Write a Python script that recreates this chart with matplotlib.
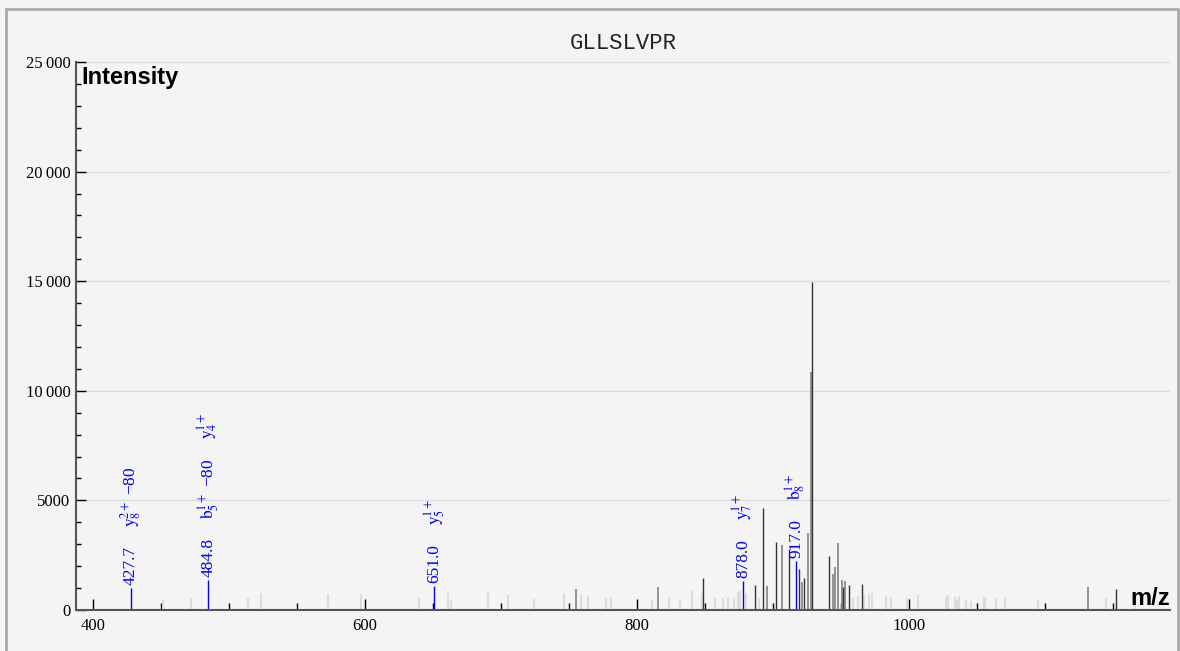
import matplotlib
matplotlib.use("Agg")
import matplotlib.pyplot as plt
from matplotlib.ticker import MultipleLocator, FuncFormatter
from matplotlib.patches import Rectangle

# peptide shown in the header
title = "GLLSLVPR"

# strong unmatched peaks (dark lines)
dark_mz = [848.8, 887.1, 892.9, 902.4, 912.0, 919.3, 923.0, 928.5, 941.4, 951.3,
           956.1, 965.6, 1152.0]
dark_int = [1474, 1140, 4653, 3116, 2783, 1870, 1446, 14977, 2463, 1063,
            1140, 1177, 944]

# medium unmatched peaks (grey lines)
mid_mz = [755.1, 815.2, 895.6, 906.6, 921.1, 925.5, 928.1, 944.3, 946.0, 948.2,
          950.5, 952.9, 1131.6]
mid_int = [944, 1035, 1095, 2965, 1291, 3499, 10871, 1642, 1939, 3057,
           1355, 1323, 1035]

# weak unmatched peaks (light grey lines)
weak_mz = [451.7, 472.1, 513.8, 523.9, 573.0, 597.4, 639.9, 660.8, 663.0, 690.8,
           705.4, 724.5, 746.5, 759.0, 764.0, 777.6, 780.7, 811.2, 823.4, 832.0,
           840.2, 847.6, 857.7, 863.0, 866.7, 871.5, 874.5, 876.1, 880.5, 890.1,
           958.6, 962.3, 967.1, 970.8, 973.0, 983.1, 986.5, 998.3, 1006.6, 1027.2,
           1028.9, 1033.8, 1035.5, 1037.0, 1041.9, 1045.6, 1054.9, 1055.9, 1064.0, 1070.8,
           1095.1, 1144.9, 1166.2]
weak_int = [456, 561, 547, 785, 716, 716, 534, 789, 456, 867,
            684, 488, 762, 684, 639, 561, 607, 456, 593, 502,
            880, 753, 534, 547, 607, 561, 835, 880, 789, 547,
            534, 639, 684, 716, 798, 652, 593, 534, 684, 579,
            671, 593, 456, 639, 456, 424, 607, 534, 547, 579,
            456, 534, 547]

# matched fragment ions (blue, annotated)
ion_mz = [427.7, 484.8, 651.0, 878.0, 917.0]
ion_int = [1000, 1370, 1100, 1320, 2240]
ion_labels = [
    [r"$\mathrm{y}_{8}^{2+}$ −80"],
    [r"$\mathrm{b}_{5}^{1+}$ −80", r"$\mathrm{y}_{4}^{1+}$"],
    [r"$\mathrm{y}_{5}^{1+}$"],
    [r"$\mathrm{y}_{7}^{1+}$"],
    [r"$\mathrm{b}_{8}^{1+}$"],
]

serif = ["Liberation Serif", "DejaVu Serif"]
plt.rcParams["mathtext.fontset"] = "stix"

bg = "#f4f4f4"
fig = plt.figure(figsize=(11.8, 6.51), dpi=100, facecolor=bg)

# grey frame round the chart
fig.add_artist(Rectangle((6 / 1180, -0.05), (1178 - 6) / 1180, 1.05 - 9 / 651,
                         transform=fig.transFigure, fill=False,
                         edgecolor="#aaaaaa", linewidth=2))

ax = fig.add_axes([76 / 1180, 41 / 651, 1094 / 1180, 548 / 651])
ax.set_facecolor(bg)

# peaks
ax.vlines(weak_mz, 0, weak_int, colors="#dcdcdc", linewidth=1.5)
ax.vlines(mid_mz, 0, mid_int, colors="#8a8a8a", linewidth=1.3)
ax.vlines(dark_mz, 0, dark_int, colors="#333333", linewidth=1.0)
ax.vlines(ion_mz, 0, ion_int, colors="#0000ff", linewidth=1.0)

# labels of the matched ions, stacked upwards
for mz, inten, labs in zip(ion_mz, ion_int, ion_labels):
    prev = ax.annotate(f"{mz:.1f}", xy=(mz, inten), xytext=(0, 2),
                       textcoords="offset points", rotation=90,
                       ha="center", va="bottom", color="#0000ff",
                       fontsize=12.5, family=serif)
    for lab in labs:
        prev = ax.annotate(lab, xy=(0.5, 1.0), xycoords=prev, xytext=(0, 14),
                           textcoords="offset points", rotation=90,
                           ha="center", va="bottom", color="#0000ff",
                           fontsize=12.5, family=serif)

ax.set_xlim(387.5, 1192)
ax.set_ylim(0, 25000)

# axes and ticks
for side in ["top", "right"]:
    ax.spines[side].set_visible(False)
for side in ["left", "bottom"]:
    ax.spines[side].set_color("#555555")
    ax.spines[side].set_linewidth(1.5)

ax.xaxis.set_major_locator(MultipleLocator(200))
ax.xaxis.set_minor_locator(MultipleLocator(50))
ax.yaxis.set_major_locator(MultipleLocator(5000))
ax.yaxis.set_minor_locator(MultipleLocator(1000))


def fmt_int(v, pos):
    v = int(round(v))
    if v >= 10000:
        return f"{v // 1000}\u2009{v % 1000:03d}"
    return str(v)


ax.yaxis.set_major_formatter(FuncFormatter(fmt_int))
ax.tick_params(axis="both", which="both", direction="in", color="black", width=1)
ax.tick_params(axis="x", which="major", length=8, pad=6)
ax.tick_params(axis="x", which="minor", length=5)
ax.tick_params(axis="y", which="major", length=7, pad=4)
ax.tick_params(axis="y", which="minor", length=3.6)
for lbl in ax.get_xticklabels() + ax.get_yticklabels():
    lbl.set_family(serif)
    lbl.set_fontsize(12)

ax.set_axisbelow(True)
ax.yaxis.grid(True, color="#dcdcdc", linewidth=1)
ax.xaxis.grid(False)
glines = ax.get_ygridlines()
glines[0].set_visible(False)
glines[-1].set_visible(False)

# axis names inside the plot
ax.text(0.005, (610 - 84) / 548, "Intensity", transform=ax.transAxes,
        ha="left", va="baseline", fontsize=17, fontweight="bold",
        family="Liberation Sans")
ax.text(1.0, (610 - 605) / 548, "m/z", transform=ax.transAxes,
        ha="right", va="baseline", fontsize=17, fontweight="bold",
        family="Liberation Sans")

fig.text(623 / 1180, 1 - 49 / 651, title, ha="center", va="baseline",
         fontsize=16, family="Liberation Mono", color="#222222")

fig.savefig("out.png", dpi=100, facecolor=bg)
